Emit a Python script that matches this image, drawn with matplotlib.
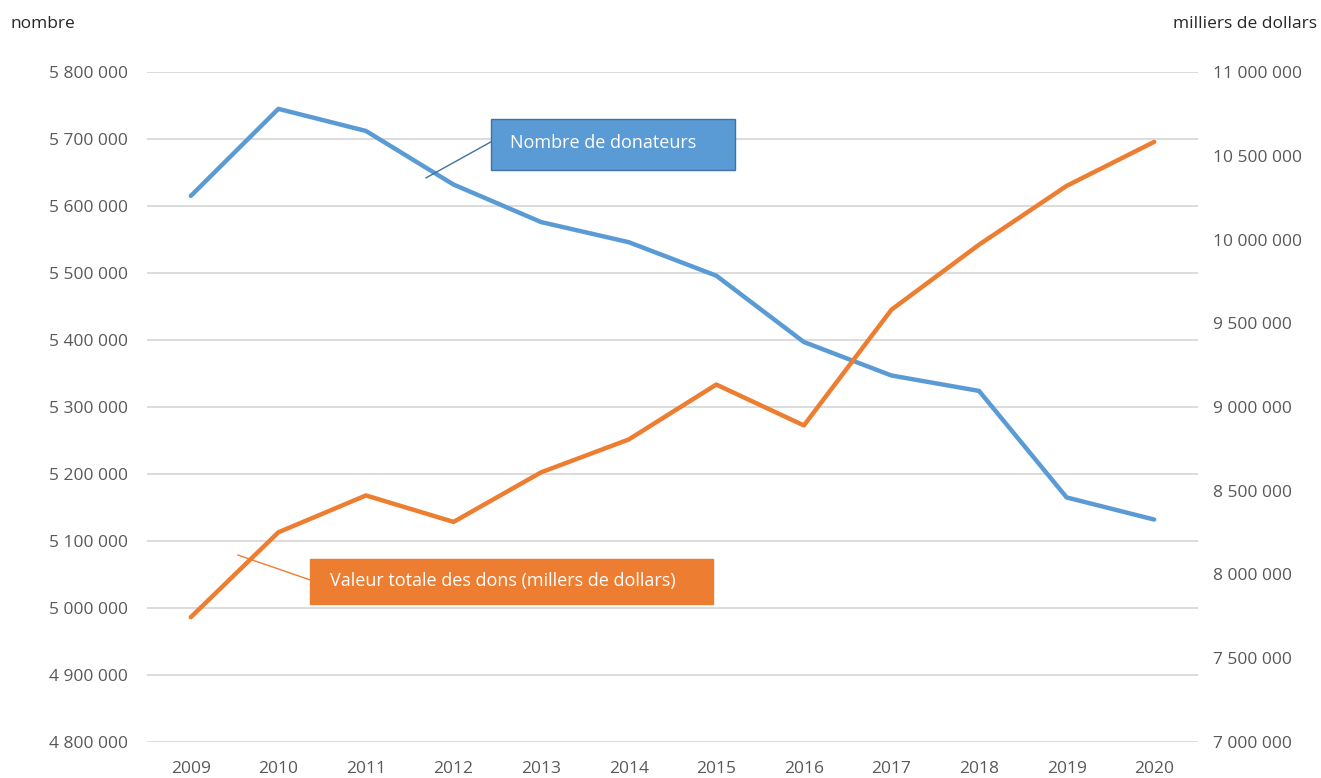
import matplotlib
matplotlib.use("Agg")
import matplotlib.pyplot as plt
from matplotlib.patches import Rectangle
from matplotlib.ticker import FuncFormatter

# ── Data ──────────────────────────────────────────────────────────────────────
years = [2009, 2010, 2011, 2012, 2013, 2014, 2015, 2016, 2017, 2018, 2019, 2020]
donateurs = [5615000, 5745000, 5712000, 5632000, 5576000, 5546000,
             5496000, 5397000, 5347000, 5324000, 5165000, 5132000]
valeur_dons = [7745000, 8252000, 8472000, 8314000, 8610000, 8806000,
               9134000, 8890000, 9581000, 9969000, 10320000, 10583000]

left_ticks = [4800000 + 100000 * i for i in range(11)]
right_ticks = [7000000 + 500000 * i for i in range(9)]

BLUE = "#5B9BD5"
ORANGE = "#ED7D31"
GREY = "#595959"
GRID = "#D9D9D9"

plt.rcParams["font.family"] = ["Open Sans", "DejaVu Sans"]


def fmt_space(v, _pos=None):
    return f"{int(round(v)):,}".replace(",", " ")


fig = plt.figure(figsize=(13.21, 7.78), dpi=100)
ax = fig.add_axes([147 / 1321, 1 - 742 / 778, 1051 / 1321, 670 / 778])
ax2 = ax.twinx()

ax.set_xlim(2008.5, 2020.5)
ax.set_ylim(4800000, 5800000)
ax2.set_ylim(7000000, 11000000)

ax.set_yticks(left_ticks)
ax2.set_yticks(right_ticks)
ax.yaxis.set_major_formatter(FuncFormatter(fmt_space))
ax2.yaxis.set_major_formatter(FuncFormatter(fmt_space))
ax.set_xticks(years)
ax.set_xticklabels([str(y) for y in years])

ax.grid(axis="y", color=GRID, linewidth=1.3)
ax.set_axisbelow(True)
for a in (ax, ax2):
    for s in a.spines.values():
        s.set_visible(False)
    a.tick_params(length=0, labelsize=12.5, labelcolor=GREY)
ax.tick_params(axis="y", pad=14)
ax2.tick_params(axis="y", pad=11)
ax.tick_params(axis="x", pad=14)

ax.plot(years, donateurs, color=BLUE, linewidth=3.2, solid_capstyle="round",
        solid_joinstyle="round", zorder=3)
ax2.plot(years, valeur_dons, color=ORANGE, linewidth=3.2, solid_capstyle="round",
         solid_joinstyle="round", zorder=3)

# ── Callout labels ────────────────────────────────────────────────────────────
ax2.add_patch(Rectangle((0.327, 0.854), 0.2325, 0.076, transform=ax2.transAxes,
                        facecolor=BLUE, edgecolor="#41719C", linewidth=1.0, zorder=5))
ax2.text(0.3455, 0.894, "Nombre de donateurs", transform=ax2.transAxes,
         ha="left", va="center", color="white", fontsize=13, zorder=6)
ax2.plot([0.2655, 0.327], [0.842, 0.8955], transform=ax2.transAxes,
         color="#41719C", linewidth=1.0, zorder=5)

ax2.add_patch(Rectangle((0.155, 0.206), 0.3835, 0.067, transform=ax2.transAxes,
                        facecolor=ORANGE, edgecolor=ORANGE, linewidth=1.0, zorder=5))
ax2.text(0.174, 0.240, "Valeur totale des dons (millers de dollars)",
         transform=ax2.transAxes, ha="left", va="center", color="white",
         fontsize=13, zorder=6)
ax2.plot([0.0866, 0.155], [0.279, 0.242], transform=ax2.transAxes,
         color=ORANGE, linewidth=1.0, zorder=5)

# ── Axis titles ───────────────────────────────────────────────────────────────
fig.text(10 / 1321, 1 - 24 / 778, "nombre", ha="left", va="center",
         fontsize=12.5, color="#262626")
fig.text(1317 / 1321, 1 - 24 / 778, "milliers de dollars", ha="right", va="center",
         fontsize=12.5, color="#262626")

fig.savefig("out.png", dpi=100, facecolor="white")
